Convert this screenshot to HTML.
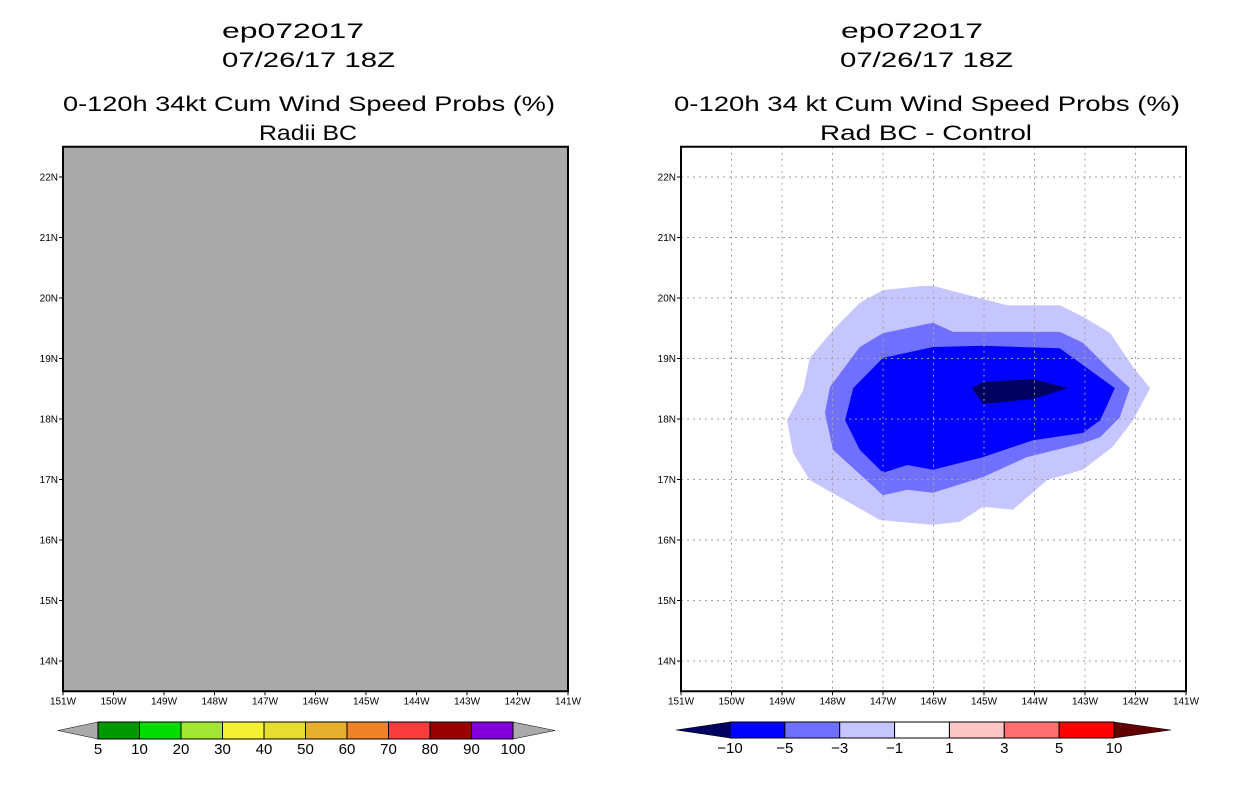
<!DOCTYPE html>
<html><head><meta charset="utf-8"><style>
html,body{margin:0;padding:0;background:#fff;}
svg{display:block;font-family:"Liberation Sans",sans-serif;}
</style></head><body>
<svg id="chart" width="1236" height="800" viewBox="0 0 1236 800" xmlns="http://www.w3.org/2000/svg">
<g font-size="21" fill="#000">
<text x="222" y="38" textLength="142" lengthAdjust="spacingAndGlyphs">ep072017</text>
<text x="222" y="67" textLength="173" lengthAdjust="spacingAndGlyphs">07/26/17 18Z</text>
<text x="63" y="111" textLength="492" lengthAdjust="spacingAndGlyphs">0-120h 34kt Cum Wind Speed Probs (%)</text>
<text x="259" y="140" textLength="98" lengthAdjust="spacingAndGlyphs">Radii BC</text>
</g>
<g font-size="21" fill="#000">
<text x="841" y="38" textLength="142" lengthAdjust="spacingAndGlyphs">ep072017</text>
<text x="840" y="67" textLength="173" lengthAdjust="spacingAndGlyphs">07/26/17 18Z</text>
<text x="674" y="111" textLength="506" lengthAdjust="spacingAndGlyphs">0-120h 34 kt Cum Wind Speed Probs (%)</text>
<text x="820" y="140" textLength="212" lengthAdjust="spacingAndGlyphs">Rad BC - Control</text>
</g>
<g id="left"></g>
<g id="right"></g>
<g id="lbar"></g>
<g id="rbar"></g>
</svg>
<script>
const lonTicks = [151,150,149,148,147,146,145,144,143,142,141];
const latTicks = [22,21,20,19,18,17,16,15,14];
const leftLevels = ["5","10","20","30","40","50","60","70","80","90","100"];
const leftColors = ["#009600","#00dc00","#a0e632","#f5f032","#e6dc32","#e6af2d","#f08228","#fa3c3c","#960000","#8200dc"];
const rightLevels = ["-10","-5","-3","-1","1","3","5","10"];
const rightColors = ["#0000ff","#7070ff","#c6c6ff","#ffffff","#ffc6c6","#ff7070","#ff0000"];
// contour polygons: [lonW, latN]
const contourLt1 = [[146.21,20.2],[146.01,20.2],[144.54,19.88],[143.5,19.88],[143.04,19.69],[142.5,19.42],[142.05,18.86],[141.71,18.51],[142.05,17.98],[142.45,17.54],[143.04,17.16],[143.75,16.99],[144.43,16.5],[145.02,16.55],[145.48,16.3],[146.01,16.25],[147.06,16.33],[148.45,16.99],[148.78,17.44],[148.9,17.98],[148.58,18.48],[148.45,19.01],[147.99,19.47],[147.46,19.92],[147,20.13]];
const contourLt3 = [[146.01,19.59],[145.61,19.44],[143.5,19.44],[143.04,19.26],[142.5,18.81],[142.11,18.51],[142.31,18.03],[142.7,17.7],[143.04,17.6],[144.15,17.37],[145.02,17.04],[146.01,16.78],[146.52,16.83],[147,16.74],[147.99,17.49],[148.15,18.1],[148.05,18.53],[147.46,19.19],[147,19.42]];
const contourLt5 = [[147,19.01],[146.01,19.19],[145.02,19.21],[143.5,19.17],[142.41,18.51],[142.7,17.98],[143.04,17.77],[144.03,17.65],[145.02,17.37],[146.01,17.16],[146.52,17.24],[147,17.11],[147.46,17.49],[147.75,17.98],[147.59,18.51]];
const contourLt10 = [[145.24,18.51],[145.02,18.61],[144.03,18.66],[143.34,18.51],[144.03,18.33],[145.02,18.25]];

const NS="http://www.w3.org/2000/svg";
const yTop=146.75, yBot=691.25;
function xs(x0){return lon=>x0+(151-lon)*50.5;}
function ys(lat){return yTop+(22.5-lat)*60.5;}
function mk(tag,attrs,parent){const e=document.createElementNS(NS,tag);for(const k in attrs)e.setAttribute(k,attrs[k]);parent.appendChild(e);return e;}

function panel(g,x0,gray,grid){
  const X=xs(x0);
  const bg=mk('rect',{x:x0,y:yTop,width:505,height:yBot-yTop,fill:gray?'#aaaaaa':'#ffffff'},g);
  
  
  if(!gray){
    const polys=[[contourLt1,'#c6c6ff','contour-minus1'],[contourLt3,'#7070ff','contour-minus3'],[contourLt5,'#0000ff','contour-minus5'],[contourLt10,'#000060','contour-minus10']];
    polys.forEach(p=>{
      const el=mk('polygon',{points:p[0].map(d=>X(d[0]).toFixed(1)+','+ys(d[1]).toFixed(1)).join(' '),fill:p[1]},g);
      
      
    });
  }
  if(grid){
    lonTicks.slice(1,-1).forEach(l=>{const e=mk('line',{x1:X(l),x2:X(l),y1:yTop,y2:yBot,stroke:'#a0a0a0','stroke-width':1,'stroke-dasharray':'2,4'},g);
      
      });
    latTicks.forEach(l=>{const e=mk('line',{x1:x0,x2:x0+505,y1:ys(l),y2:ys(l),stroke:'#a0a0a0','stroke-width':1,'stroke-dasharray':'2,4'},g);
      
      });
  }
  const fr=mk('rect',{x:x0,y:yTop,width:505,height:yBot-yTop,fill:'none',stroke:'#000','stroke-width':2},g);
  
  
  latTicks.forEach(l=>{
    mk('line',{x1:x0-4,x2:x0,y1:ys(l),y2:ys(l),stroke:'#000','stroke-width':1},g);
    const t=mk('text',{x:x0-5,y:ys(l)+3.5,'font-size':10,'text-anchor':'end'},g);
    
    
    t.textContent=l+'N';
  });
  lonTicks.forEach(l=>{
    mk('line',{x1:X(l),x2:X(l),y1:yBot,y2:yBot+4,stroke:'#000','stroke-width':1},g);
    const t=mk('text',{x:X(l),y:yBot+13,'font-size':10,'text-anchor':'middle'},g);
    
    
    t.textContent=l+'W';
  });
}
panel(document.getElementById('left'),63,true,false);
panel(document.getElementById('right'),681,false,true);

function bar(g,x0,x1,tip0,tip1,y0,y1,colors,levels,leftTri,rightTri){
  const n=colors.length,w=(x1-x0)/n,ym=(y0+y1)/2;
  const a=mk('polygon',{points:`${tip0},${ym} ${x0},${y0} ${x0},${y1}`,fill:leftTri,stroke:'#000','stroke-width':0.5},g);
  
  
  const b=mk('polygon',{points:`${tip1},${ym} ${x1},${y0} ${x1},${y1}`,fill:rightTri,stroke:'#000','stroke-width':0.5},g);
  
  
  colors.forEach((c,i)=>{
    const r=mk('rect',{x:x0+i*w,y:y0,width:w,height:y1-y0,fill:c,stroke:'#000','stroke-width':1},g);
    
    
  });
  levels.forEach((s,i)=>{
    const t=mk('text',{x:x0+i*w,y:y1+15,'font-size':15,'text-anchor':'middle'},g);
    
    
    t.textContent=s.replace('-','\u2212');
  });
}
bar(document.getElementById('lbar'),98,513,58,555,722,739,leftColors,leftLevels,'#aaaaaa','#aaaaaa');
bar(document.getElementById('rbar'),730,1114,676,1171,722,738,rightColors,rightLevels,'#000060','#600000');
</script>
</body></html>
